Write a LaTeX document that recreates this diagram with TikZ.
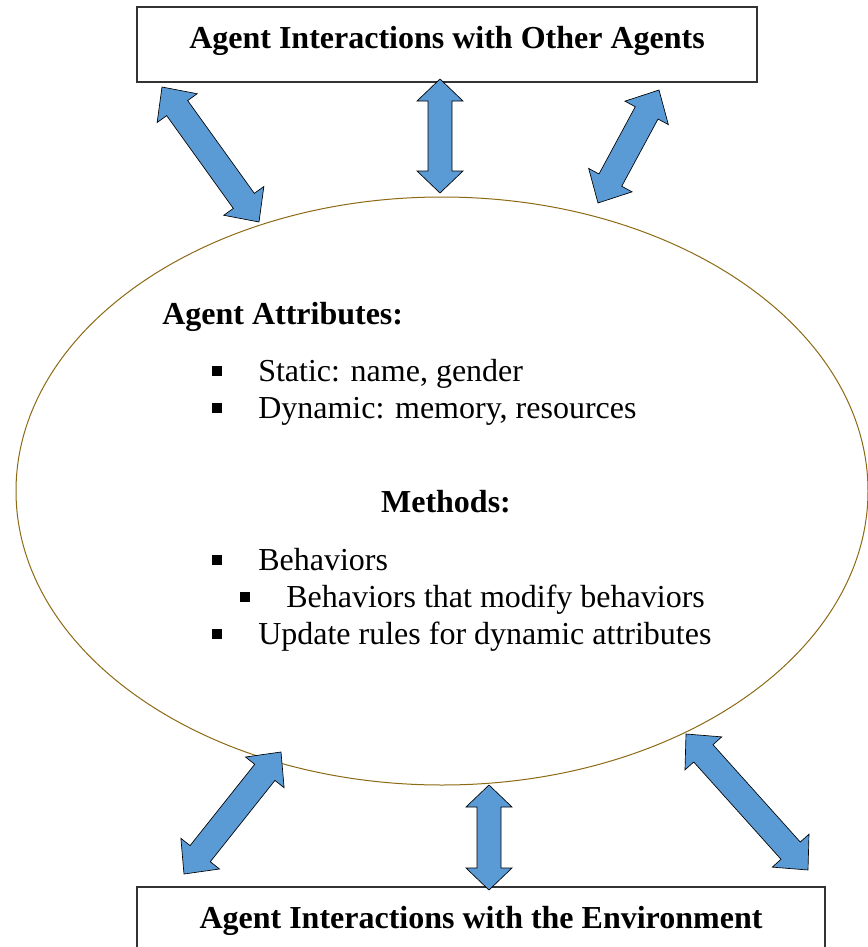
\documentclass[tikz,border=0pt]{standalone}
\usepackage{fontspec}
\setmainfont{Liberation Serif}
\usetikzlibrary{calc,shapes.geometric}

\definecolor{arrowblue}{RGB}{91,155,213}
\definecolor{rimgold}{RGB}{140,106,20}

% geometry of the double-headed block arrows
\newlength{\headlen}
\newlength{\headhalf}
\newlength{\shafthalf}
\newcommand{\arrowsize}[3]{%
  \setlength{\headlen}{#1}\setlength{\headhalf}{#2}\setlength{\shafthalf}{#3}}

% \dblarrow{from}{to}: filled double-headed block arrow between two named points
\newcommand{\dblarrow}[2]{%
  \coordinate (ha) at ($(#1)!\headlen!(#2)$);
  \coordinate (hb) at ($(#2)!\headlen!(#1)$);
  \draw[blockarrow] (#1)
    -- ($(ha)!\headhalf!90:(#2)$) -- ($(ha)!\shafthalf!90:(#2)$)
    -- ($(hb)!\shafthalf!-90:(#1)$) -- ($(hb)!\headhalf!-90:(#1)$)
    -- (#2)
    -- ($(hb)!\headhalf!90:(#1)$) -- ($(hb)!\shafthalf!90:(#1)$)
    -- ($(ha)!\shafthalf!-90:(#2)$) -- ($(ha)!\headhalf!-90:(#2)$)
    -- cycle;}

\begin{document}
\begin{tikzpicture}[x=0.75pt,y=-0.75pt,
  titlebox/.style={draw=black!80,line width=0.8pt,fill=white,inner sep=0pt},
  blockarrow/.style={fill=arrowblue,draw=black,line width=0.5pt,line join=miter},
  heading/.style={font=\fontsize{24}{28}\selectfont\bfseries,inner sep=0pt},
  item/.style={font=\fontsize{24}{28}\selectfont,inner sep=0pt,anchor=base west},
  bullet/.style={fill=black,inner sep=0pt,minimum size=6.8pt,draw=none}]
\useasboundingbox (0,0) rectangle (868,947);

% the agent
\node[ellipse,draw=rimgold,line width=0.75pt,minimum width=639pt,minimum height=441pt,inner sep=0pt]
  (agent) at (442,491) {};

% boxes for the two kinds of interaction
\node[titlebox,minimum width=465pt,minimum height=56.25pt] (others) at (447,44.5) {};
\node[heading,anchor=base] (otherstitle) at (447,48) {Agent Interactions with Other Agents};

\node[titlebox,minimum width=516pt,minimum height=75pt] (env) at (481,937) {};
\node[heading,anchor=base] (envtitle) at (481,928) {Agent Interactions with the Environment};

% contents of the agent
\node[heading,anchor=base west] (attr) at (162,324) {Agent Attributes:};
\node[bullet] (b1) at (217,371) {};
\node[item] (static) at (258,381) {Static: name, gender};
\node[bullet] (b2) at (217,408) {};
\node[item] (dynamic) at (258,418) {Dynamic: memory, resources};

\node[heading,anchor=base] (methods) at (446,512) {Methods:};
\node[bullet] (b3) at (217,560) {};
\node[item] (behav) at (258,570) {Behaviors};
\node[bullet] (b4) at (245,597) {};
\node[item] (modify) at (286,607) {Behaviors that modify behaviors};
\node[bullet] (b5) at (217,634) {};
\node[item] (update) at (258,644) {Update rules for dynamic attributes};

% arrow end points
\coordinate (tl1) at (162,87);  \coordinate (tl2) at (259,222);
\coordinate (tm1) at (440,79);  \coordinate (tm2) at (440,193);
\coordinate (tr1) at (659,90);  \coordinate (tr2) at (598,203);
\coordinate (bl1) at (281,752); \coordinate (bl2) at (184,874);
\coordinate (bm1) at (489,785); \coordinate (bm2) at (489,890);
\coordinate (br1) at (686,734); \coordinate (br2) at (808,870);

% diagonal arrows
\arrowsize{19.5pt}{18.5pt}{9.7pt}
\dblarrow{tl1}{tl2}
\dblarrow{tr1}{tr2}
\dblarrow{bl1}{bl2}
\dblarrow{br1}{br2}
% vertical arrows
\arrowsize{16.5pt}{17.25pt}{9pt}
\dblarrow{tm1}{tm2}
\dblarrow{bm1}{bm2}
\end{tikzpicture}
\end{document}
